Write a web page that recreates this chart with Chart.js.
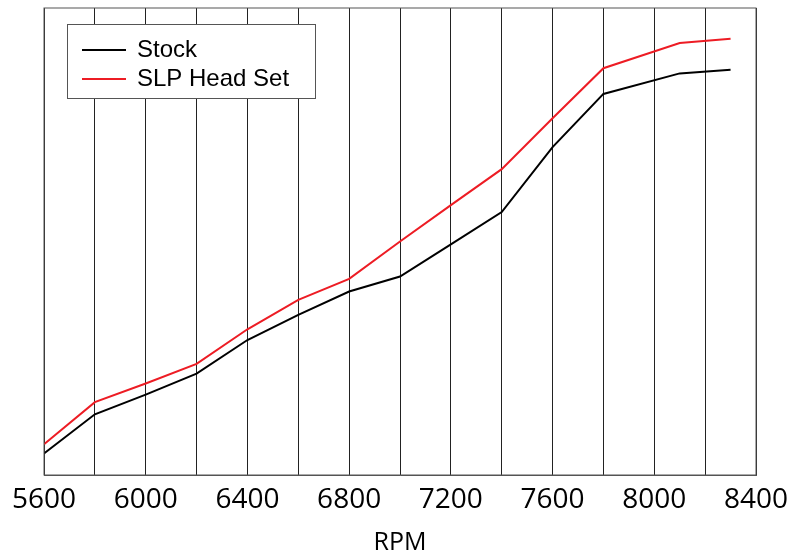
<!DOCTYPE html>
<html>
<head>
<meta charset="utf-8">
<script src="https://cdn.jsdelivr.net/npm/chart.js@4.4.0/dist/chart.umd.min.js"></script>
<style>
  html, body { margin: 0; padding: 0; background: #fff; }
  #wrap { width: 806px; height: 555px; }
</style>
</head>
<body>
<div id="wrap"><canvas id="rpmChart" width="806" height="555"></canvas></div>
<script>
// RPM sample points and relative output (y axis is unlabelled in the source)
const rpm = [5600, 5800, 6000, 6200, 6400, 6600, 6800, 7000, 7200, 7400, 7600, 7800, 8100, 8300];
const stock = [4.6, 13.0, 17.2, 21.7, 28.9, 34.3, 39.3, 42.5, 49.4, 56.3, 70.2, 81.6, 86.0, 86.8];
const slpHeads = [6.6, 15.6, 19.6, 23.8, 31.2, 37.5, 42.0, 50.0, 57.8, 65.5, 76.4, 87.1, 92.5, 93.4];
const seriesNames = ["Stock", "SLP Head Set"];
const xTitle = "RPM";

const toPoints = (vals) => vals.map((v, i) => ({ x: rpm[i], y: v }));

// box around the plot + legend inside the plot area
const frameAndLegend = {
  id: "frameAndLegend",
  afterDraw(chart) {
    const ctx = chart.ctx;
    const a = chart.chartArea;
    ctx.save();
    ctx.strokeStyle = "#555";
    ctx.lineWidth = 1;
    ctx.strokeRect(a.left, a.top, a.right - a.left, a.bottom - a.top);

    // legend box
    ctx.fillStyle = "#fff";
    ctx.fillRect(67.5, 24.5, 248, 74);
    ctx.strokeRect(67.5, 24.5, 248, 74);
    ctx.font = "24px 'Liberation Sans', Arial, sans-serif";
    ctx.textBaseline = "middle";
    chart.data.datasets.forEach((ds, i) => {
      const y = 50 + i * 29;
      ctx.strokeStyle = ds.borderColor;
      ctx.lineWidth = 2;
      ctx.beginPath();
      ctx.moveTo(82, y);
      ctx.lineTo(126, y);
      ctx.stroke();
      ctx.fillStyle = "#000";
      ctx.fillText(ds.label, 137, y);
    });
    ctx.restore();
  },
};

const ctx = document.getElementById("rpmChart").getContext("2d");
const chart = new Chart(ctx, {
  type: "line",
  data: {
    datasets: [
      {
        label: seriesNames[0],
        data: toPoints(stock),
        borderColor: "#000000",
        borderWidth: 2,
        pointRadius: 0,
        fill: false,
        tension: 0,
      },
      {
        label: seriesNames[1],
        data: toPoints(slpHeads),
        borderColor: "#ed1c24",
        borderWidth: 2,
        pointRadius: 0,
        fill: false,
        tension: 0,
      },
    ],
  },
  options: {
    responsive: false,
    animation: false,
    layout: { padding: { left: 44, right: 50, top: 8, bottom: 0 } },
    plugins: {
      legend: { display: false },
      tooltip: { enabled: false },
    },
    scales: {
      x: {
        type: "linear",
        min: 5600,
        max: 8400,
        afterFit(scale) { scale.height = 80; },
        ticks: {
          stepSize: 200,
          autoSkip: false,
          maxRotation: 0,
          padding: 8,
          color: "#000",
          font: { family: "'Open Sans'", size: 28 },
          callback: (v) => (v % 400 === 0 ? String(v) : ""),
        },
        grid: { color: "#222", lineWidth: 1, drawTicks: false },
        border: { display: true, color: "#555" },
        title: {
          display: true,
          text: xTitle,
          color: "#000",
          font: { family: "'Open Sans'", size: 25, lineHeight: 1 },
          padding: { top: -2, bottom: 0 },
        },
      },
      y: {
        display: false,
        min: 0,
        max: 100,
      },
    },
  },
  plugins: [frameAndLegend],
});
</script>
</body>
</html>
